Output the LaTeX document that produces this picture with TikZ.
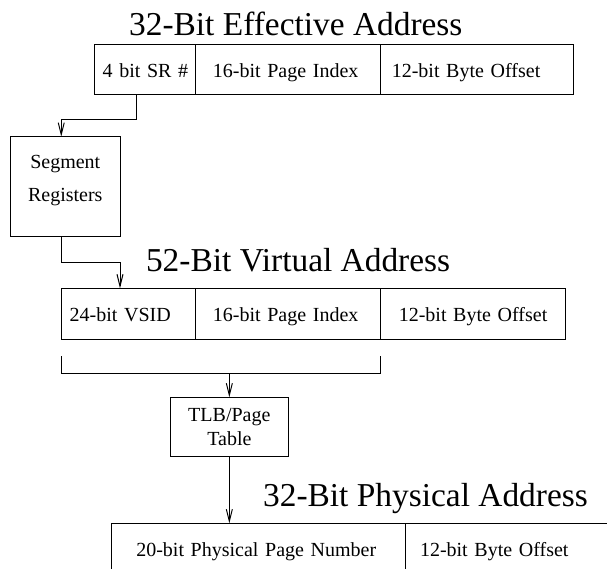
\documentclass[tikz,border=0pt]{standalone}
\usepackage{fontspec}
\setmainfont{Liberation Serif}
\usetikzlibrary{arrows.meta}
\tikzset{
	% Two box styles: fields of an address and lookup units
	field node/.style={draw,anchor=north west,outer sep=0pt,inner ysep=0pt,
		minimum height=50.7pt,text height=16pt,text depth=0pt,align=left,
		font=\fontsize{20}{24}\selectfont},
	unit node/.style={draw,anchor=north west,outer sep=0pt,inner sep=0pt,align=center},
	title node/.style={anchor=base,inner sep=0pt,font=\fontsize{33.4}{40}\selectfont}
}

\begin{document}
\begin{tikzpicture}
	[x=1pt,y=-1pt,line width=1pt,
	 >={Straight Barb[length=12pt,width=6pt]}]
	\useasboundingbox (0,0) rectangle (607,569);
	\clip (0,0) rectangle (607,569);
	% effective address
	\node [title node] (eatitle) at (295.8,36) {32-Bit Effective Address};
	\node [field node,text width=85.2pt,inner xsep=7.7pt] (sr) at (94.9,44.3) {\mbox{4 bit SR \#}};
	\node [field node,text width=150.3pt,inner xsep=17.4pt] (eaidx) at (sr.north east) {\mbox{16-bit Page Index}};
	\node [field node,text width=170.8pt,inner xsep=11.2pt] (eaoff) at (eaidx.north east) {\mbox{12-bit Byte Offset}};
	% segment registers
	\node [unit node,minimum width=109.5pt,minimum height=100pt,font=\fontsize{20}{33}\selectfont]
		(seg) at (10.5,136.7) {Segment\\Registers\rule[-16pt]{0pt}{0pt}};
	% virtual address
	\node [title node] (vatitle) at (298.1,271) {52-Bit Virtual Address};
	\node [field node,text width=117.3pt,inner xsep=8.5pt] (vsid) at (61.2,288.3) {\mbox{24-bit VSID}};
	\node [field node,text width=150.3pt,inner xsep=17.4pt] (vaidx) at (vsid.north east) {\mbox{16-bit Page Index}};
	\node [field node,text width=148.2pt,inner xsep=18.2pt] (vaoff) at (vaidx.north east) {\mbox{12-bit Byte Offset}};
	% page table
	\node [unit node,minimum width=118.1pt,minimum height=58.7pt,font=\fontsize{20}{24}\selectfont]
		(tlb) at (170.3,397.3) {TLB/Page\\Table};
	% physical address
	\node [title node] (patitle) at (425.5,506.7) {32-Bit Physical Address};
	\node [field node,text width=244.6pt,inner xsep=24.8pt] (ppn) at (111.5,523.3) {\mbox{20-bit Physical Page Number}};
	\node [field node,text width=191.4pt,inner xsep=14.3pt] (paoff) at (ppn.north east) {\mbox{12-bit Byte Offset}};

	\coordinate (srtap) at ([xshift=41.8pt]sr.south west);
	\coordinate (segin) at ([xshift=-4pt]seg.north);
	\draw [->] (srtap) -- ++(0,25) -| (segin);
	\coordinate (segout) at ([xshift=-4pt]seg.south);
	\coordinate (vin) at ([xshift=58.8pt]vsid.north west);
	\draw [->] (segout) -- ++(0,25.6) -| (vin);
	\draw ([yshift=-17.4pt]vsid.south west) -- ++(0,16.6) coordinate (brk)
		-| ([yshift=-17.4pt]vaidx.south east);
	\draw [->] (tlb.north |- brk) -- (tlb.north);
	\draw [->] (tlb.south) -- (tlb.south |- ppn.north);
\end{tikzpicture}
\end{document}
